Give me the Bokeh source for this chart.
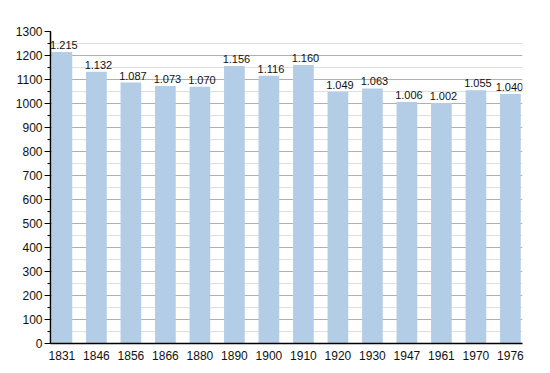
from bokeh.plotting import figure
from bokeh.models import ColumnDataSource, SingleIntervalTicker, FixedTicker, Range1d, Label
from bokeh.embed import file_html
from bokeh.resources import INLINE

years = ["1831", "1846", "1856", "1866", "1880", "1890", "1900", "1910", "1920", "1930", "1947", "1961", "1970", "1976"]
population = [1215, 1132, 1087, 1073, 1070, 1156, 1116, 1160, 1049, 1063, 1006, 1002, 1055, 1040]
value_labels = ["1.215", "1.132", "1.087", "1.073", "1.070", "1.156", "1.116", "1.160", "1.049", "1.063", "1.006", "1.002", "1.055", "1.040"]

xs = list(range(len(years)))
bar_w = 0.6
src = ColumnDataSource(dict(x=xs, top=population, lab=value_labels))

p = figure(width=542, height=365, output_backend="svg", toolbar_location=None,
           x_range=Range1d(-bar_w / 2 - 0.03, len(years) - 1 + bar_w / 2 + 0.05),
           y_range=Range1d(0, 1300),
           min_border_left=50, min_border_right=20, min_border_top=31, min_border_bottom=22)
p.outline_line_color = None
p.background_fill_color = "white"

p.vbar(x="x", top="top", width=bar_w, source=src, fill_color="#b3cde6", line_color=None)

n = len(xs)
for i, (xv, yv, txt) in enumerate(zip(xs, population, value_labels)):
    p.add_layout(Label(x=xv, y=yv, text=txt, text_align="center", text_baseline="bottom",
                       x_offset=(2 if i < n - 1 else -1), y_offset=3, text_font="Liberation Sans",
                       text_font_size="11px", text_color="#111111"))

p.yaxis.ticker = SingleIntervalTicker(interval=100, num_minor_ticks=2)
p.ygrid.ticker = p.yaxis.ticker
p.ygrid.grid_line_color = "#b0b0b0"
p.ygrid.minor_grid_line_color = "#e0e0e0"
p.xgrid.grid_line_color = None

p.xaxis.ticker = FixedTicker(ticks=xs)
p.xaxis.major_label_overrides = {i: y for i, y in enumerate(years)}
p.xaxis.major_tick_line_color = None
p.xaxis.minor_tick_line_color = None
p.xaxis.major_label_standoff = 1

for ax in (p.xaxis, p.yaxis):
    ax.axis_line_color = "#000000"
    ax.axis_line_width = 1.5
    ax.major_label_text_font = "Liberation Sans"
    ax.major_label_text_font_size = "12px"
    ax.major_label_text_color = "#111111"

p.yaxis.major_tick_out = 6
p.yaxis.major_tick_in = 0
p.yaxis.minor_tick_out = 3
p.yaxis.minor_tick_in = 0
p.yaxis.major_label_standoff = 2

open("out.html", "w").write(file_html(p, INLINE))
